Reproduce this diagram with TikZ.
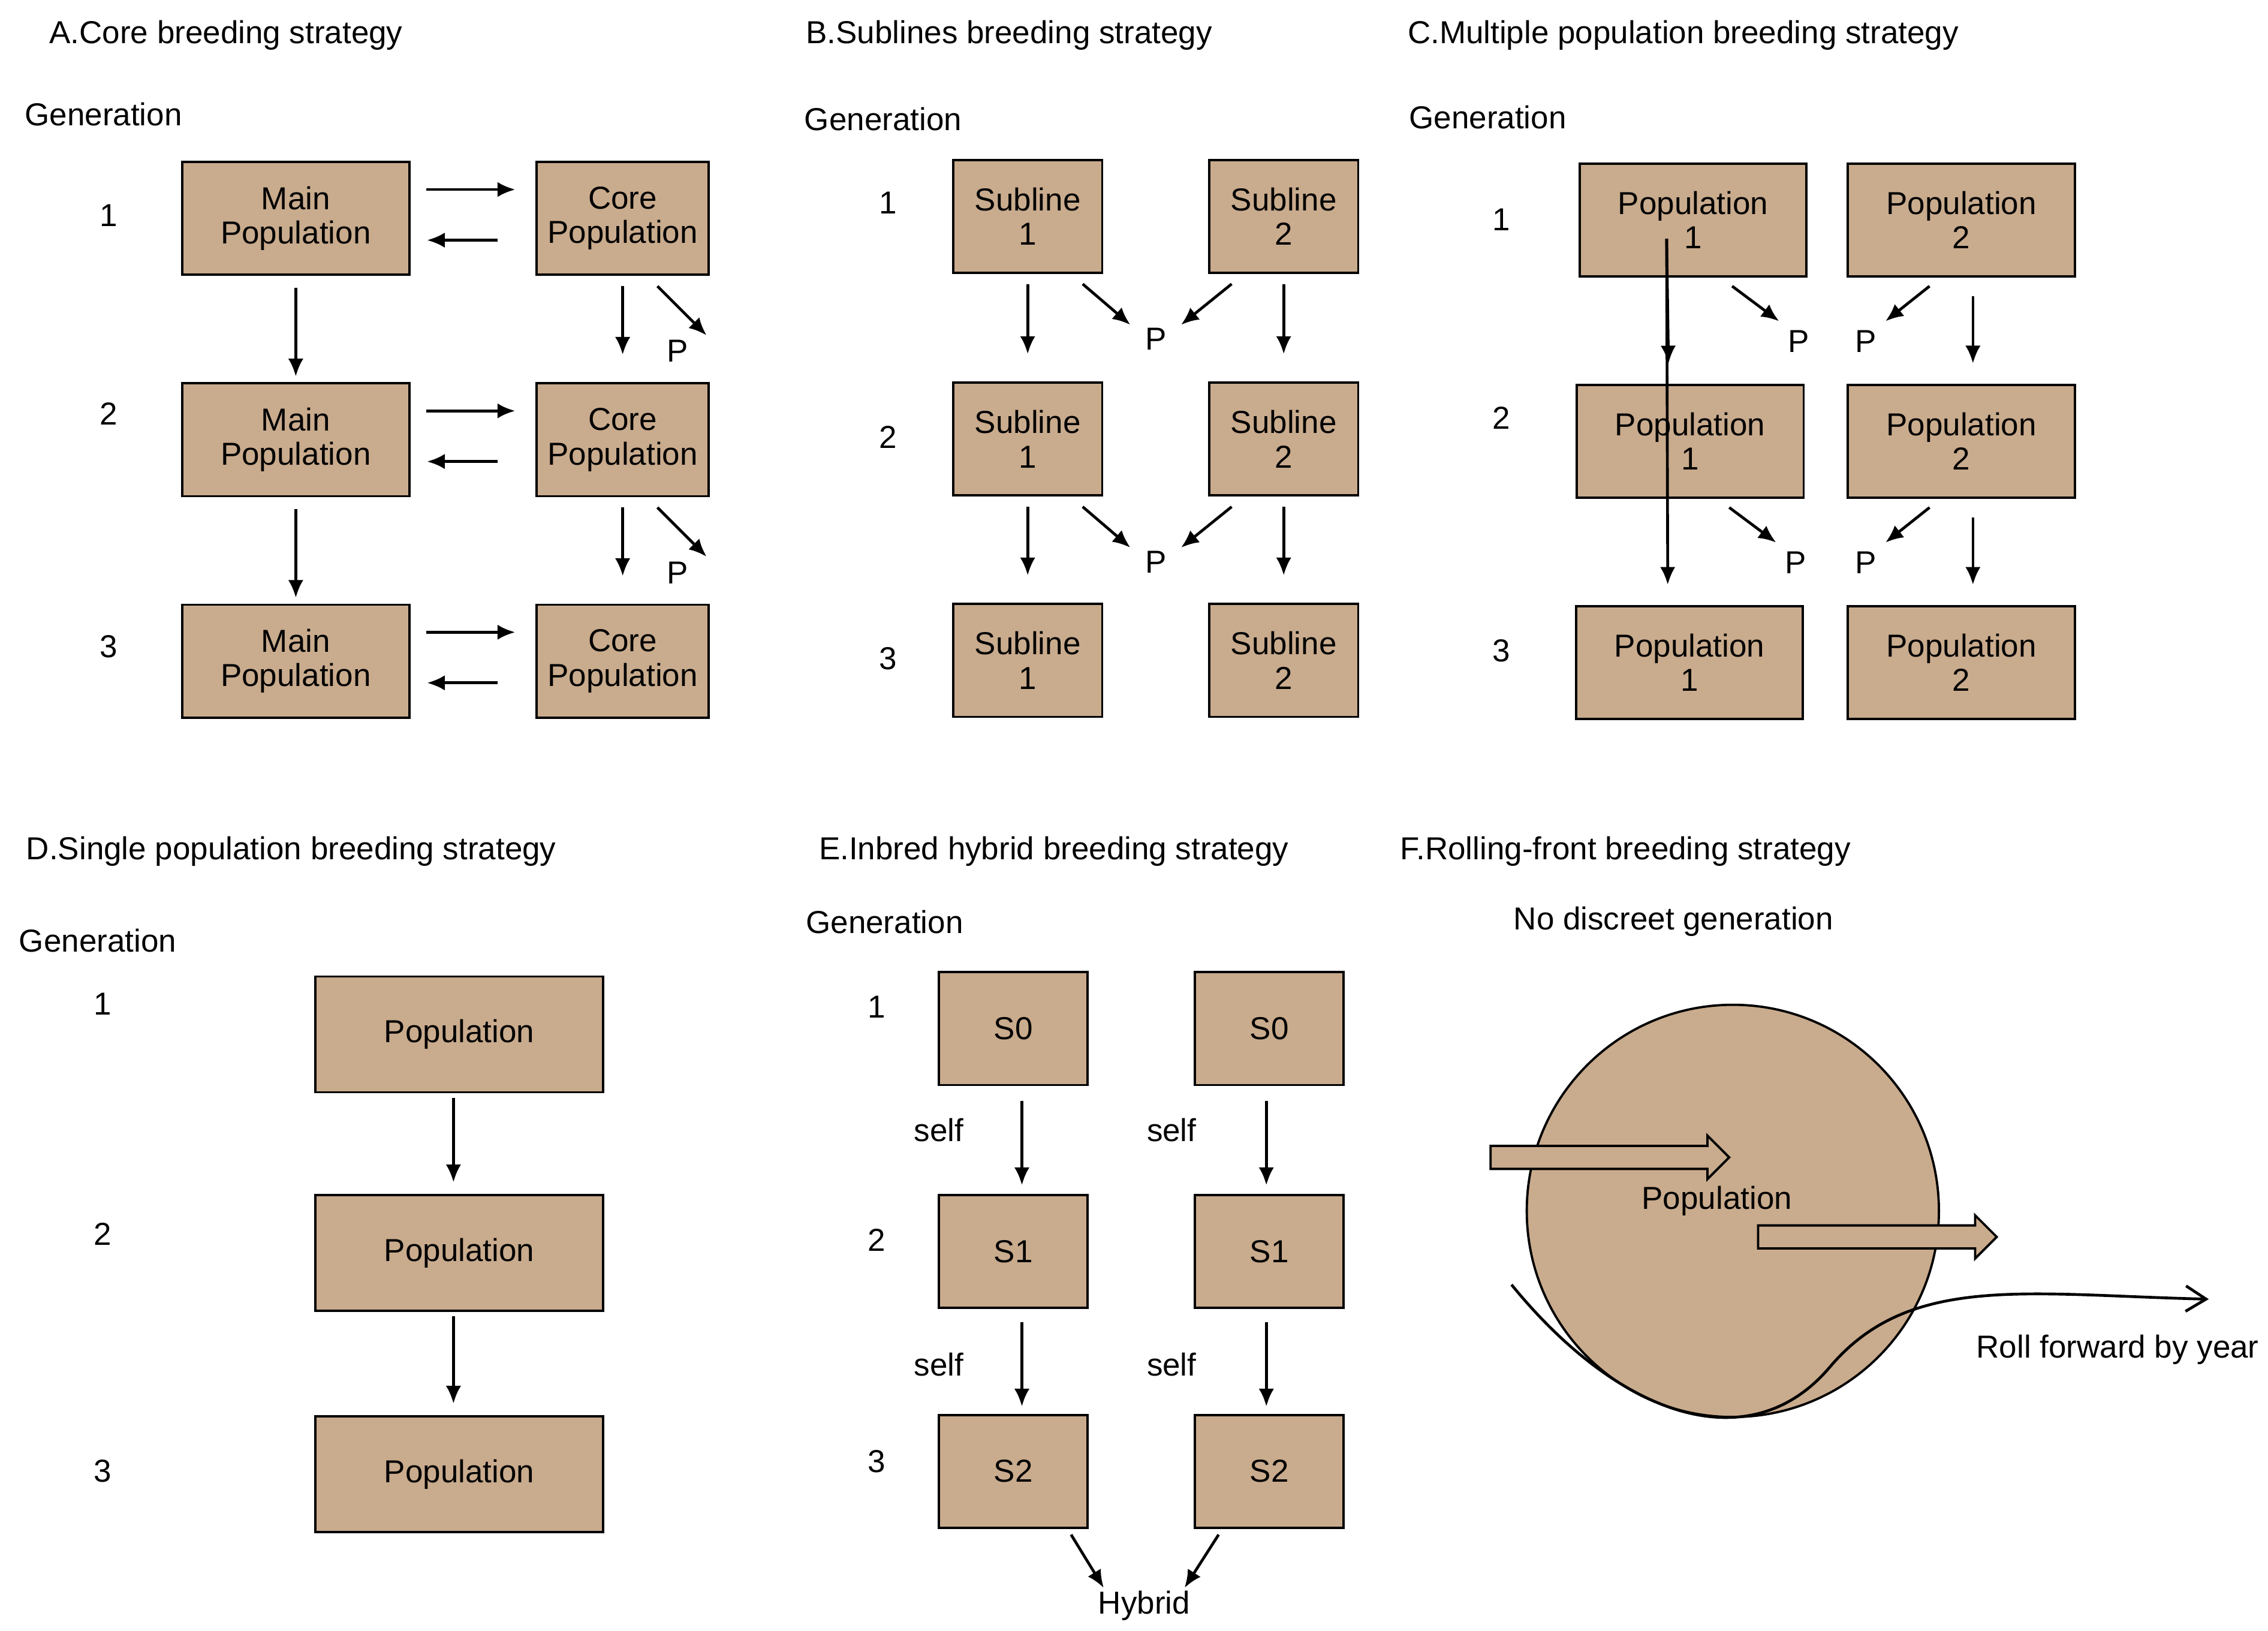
\documentclass[tikz,border=0pt]{standalone}
\usepackage{fontspec}
\setmainfont{Liberation Sans}
\usetikzlibrary{shapes, arrows.meta, positioning, calc}
\definecolor{tan}{RGB}{201,171,141}
\begin{document}
\begin{tikzpicture}[x=0.02cm, y=-0.02cm, font=\fontsize{12.5}{13.5}\selectfont,
    box/.style={draw, line width=0.9pt, fill=tan, align=center, inner sep=0pt, minimum height=1.56cm},
    arr/.style={-{Latex[length=7pt,width=6pt]}, line width=1.1pt},
    txt/.style={anchor=base west}]
    \useasboundingbox (0,0) rectangle (1568,1127);
    % Titles
    \node[txt] at (28,30) {A.Core breeding strategy};
    \node[txt] at (551,30) {B.Sublines breeding strategy};
    \node[txt] at (967,30) {C.Multiple population breeding strategy};
    \node[txt] at (12,594) {D.Single population breeding strategy};
    \node[txt] at (560,594) {E.Inbred hybrid breeding strategy};
    \node[txt] at (962,594) {F.Rolling-front breeding strategy};
    \node[txt] at (11,87) {Generation};
    \node[txt] at (550,90) {Generation};
    \node[txt] at (968,89) {Generation};
    \node[txt] at (7,658) {Generation};
    \node[txt] at (551,645) {Generation};
    \node (nodisc) at (1157,637) {No discreet generation};

    % A
    \foreach \r/\y/\g in {1/151/149,2/304/286,3/457/447} {
        \node at (75,\g) {\r};
        \node[box, minimum width=3.14cm] (main\r) at (204.5,\y) {Main\\Population};
        \node[box, minimum width=2.38cm] (core\r) at (430.5,\y) {Core\\Population};
        \draw[arr] ($(main\r.east)+(11,-20)$) -- ($(core\r.west)+(-14,-20)$);
        \draw[arr] ($(core\r.west)+(-26,15)$) -- ($(main\r.west)+(170,15)$);
    }
    \foreach \r/\s in {1/2,2/3} {
        \draw[arr] ($(main\r.south)+(0,8)$) -- ($(main\s.north)+(0,-4)$);
        \draw[arr] ($(core\r.south)+(0,7)$) -- ($(core\s.north)+(0,-19)$);
        \draw[arr] ($(core\r.south)+(24,7)$) -- ($(core\r.south)+(58,41)$) coordinate (pa\r);
        \node at ($(pa\r)+(-20,11)$) {P};
    }

    % B
    \foreach \r/\y/\g in {1/149.5/140,2/303.5/302,3/456.5/455} {
        \node at (614,\g) {\r};
        \node[box, minimum width=2.06cm] (subl\r) at (710.5,\y) {Subline\\1};
        \node[box, minimum width=2.06cm] (subr\r) at (887.5,\y) {Subline\\2};
    }
    \foreach \r/\s in {1/2,2/3} {
        \coordinate (pb\r) at ($(subl\r.south)!0.5!(subr\r.south)+(0,45)$);
        \node (lp\r) at (pb\r) {P};
        \draw[arr] ($(subl\r.south)+(0,7)$) -- ($(subl\s.north)+(0,-19)$);
        \draw[arr] ($(subr\r.south)+(0,7)$) -- ($(subr\s.north)+(0,-19)$);
        \draw[arr] ($(subl\r.south)+(38,7)$) -- ($(lp\r.north west)+(-4,4)$);
        \draw[arr] ($(subr\r.south)+(-36,7)$) -- ($(lp\r.north east)+(4,4)$);
    }

    % C
    \foreach \r/\y/\g/\xl in {1/152/152/1170.5,2/305/289/1168.5,3/458/450/1168} {
        \node at (1038,\g) {\r};
        \node[box, minimum width=3.14cm] (popl\r) at (\xl,\y) {Population\\1};
        \node[box, minimum width=3.14cm] (popr\r) at (1356,\y) {Population\\2};
    }
    \foreach \r/\s in {1/2,2/3} {
        \draw[arr] ($(popl1.west)+(61,0)$ |- popl\r.south) ++(0,13) -- ($(popl\s.north)+(-15,-14)$);
        \draw[arr] (1364,0 |- popr\r.south) ++(0,13) -- ($(popr\s.north)+(8,-14)$);
        \node (pl\r) at ($(popl\r.south)+(73,44)$) {P};
        \node (pr\r) at ($(popr\r.south)+(-66,44)$) {P};
        \draw[arr] ($(popl\r.south)+(27,6)$) -- (pl\r.north west);
        \draw[arr] ($(popr\r.south)+(-22,6)$) -- (pr\r.north east);
    }

    % D
    \foreach \r/\y/\g in {1/715/694,2/866/853,3/1019/1017} {
        \node at (71,\g) {\r};
        \node[box, minimum width=3.98cm, minimum height=1.6cm] (pd\r) at (317.5,\y) {Population};
    }
    \draw[arr] ($(pd1.south)+(-4,3)$) -- ($(pd2.north)+(-4,-8)$);
    \draw[arr] ($(pd2.south)+(-4,3)$) -- ($(pd3.north)+(-4,-8)$);

    % E
    \foreach \r/\y/\g/\s in {1/711/696/S0,2/865/857/S1,3/1017/1010/S2} {
        \node at (606,\g) {\r};
        \node[box, minimum width=2.06cm] (el\r) at (700.5,\y) {\s};
        \node[box, minimum width=2.06cm] (er\r) at (877.5,\y) {\s};
    }
    \draw[arr] ($(el1.south)+(6,10)$) -- ($(el2.north)+(6,-6)$);
    \draw[arr] ($(er1.south)+(-2,10)$) -- ($(er2.north)+(-2,-6)$);
    \draw[arr] ($(el2.south)+(6,9)$) -- ($(el3.north)+(6,-5)$);
    \draw[arr] ($(er2.south)+(-2,9)$) -- ($(er3.north)+(-2,-5)$);
    \node at (649,781) {self};
    \node at (810,781) {self};
    \node at (649,943) {self};
    \node at (810,943) {self};
    \node (hybrid) at (791,1110) {Hybrid};
    \draw[arr] ($(el3.south)+(40,4)$) -- ($(hybrid.north west)+(10,4)$);
    \draw[arr] ($(er3.south)+(-35,4)$) -- ($(hybrid.north east)+(-10,4)$);

    % F
    \node[circle, draw, line width=0.9pt, fill=tan, minimum size=5.7cm, inner sep=0pt] (circ) at (1198,837) {};
    \node (poplabel) at (1187,830) {Population};
    \node[single arrow, draw, line width=0.9pt, fill=tan, minimum height=3.3cm, minimum width=0.6cm,
          single arrow head extend=0.12cm, inner sep=0.12cm] (fa1) at (1109,800) {};
    \node[single arrow, draw, line width=0.9pt, fill=tan, minimum height=3.3cm, minimum width=0.6cm,
          single arrow head extend=0.12cm, inner sep=0.12cm] (fa2) at (1294,855) {};
    \coordinate (rstart) at (1045,888);
    \coordinate (rend) at (1527,898);
    \draw[line width=1.1pt, -{Straight Barb[length=8pt,width=10pt]}] (rstart) .. controls (1120,980) and (1210,1010) .. (1265,945)
        .. controls (1320,880) and (1400,895) .. (rend);
    \node (roll) at (1464,933) {Roll forward by year};
\end{tikzpicture}
\end{document}
